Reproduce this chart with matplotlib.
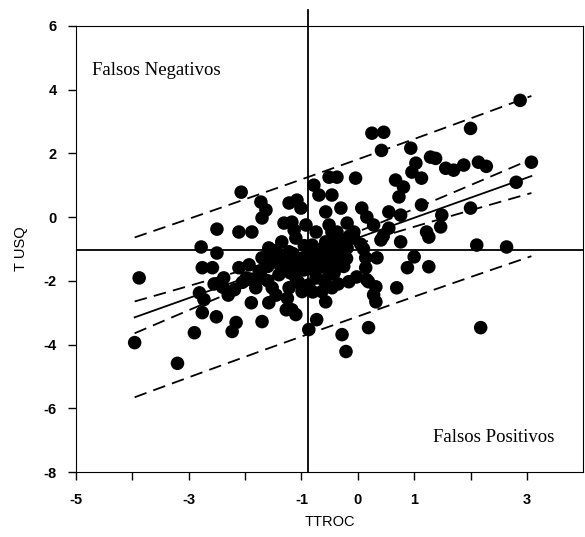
import numpy as np
import matplotlib
matplotlib.use('Agg')
import matplotlib.pyplot as plt

plt.rcParams['axes.unicode_minus'] = False
plt.rcParams['font.family'] = ['Liberation Sans', 'DejaVu Sans']

# scatter data
ttroc = [-2.07, -1.72, -1.63, -1.70, -1.22, -1.08, -1.01, -1.31, -1.17, -1.13,
         -0.92, -2.11, -1.88, -2.50, -0.78, -0.51, -0.69, -0.57, -0.51, 0.25,
         0.46, 0.42, 0.94, 1.29, 1.38, 1.03, 0.96, 1.13, 1.56, 1.70,
         1.88, 2.00, 2.14, 2.28, 2.88, 3.08, 2.81, 2.00, 2.11, 2.64,
         -0.37, -0.04, 0.67, 0.81, 0.73, 1.13, -0.30, 0.07, 0.16, 0.55,
         0.76, -0.19, 0.28, -0.37, -0.07, 1.22, 1.49, 1.47, 1.26, 0.41,
         0.76, 1.00, 0.88, 1.26, 0.34, 0.14, 0.14, -0.30, -0.34, -0.16,
         -0.02, 0.16, 0.32, 0.28, 0.32, 0.69, -0.28, 0.19, -0.21, -0.42,
         2.18, -0.87, -0.73, -1.17, -1.27, -1.10, -1.70, -2.16, -2.23, -1.89,
         -1.58, -2.11, -2.19, -1.58, -2.78, -2.50, -3.88, -2.76, -2.58, -2.81,
         -2.73, -2.76, -2.51, -2.90, -3.96, -3.20, -2.38, 0.19,
         -1.35, -1.10, -0.81, -0.57, -0.51, -0.74, -1.10, -1.45, -1.70, -1.93,
         -1.98, -1.70, -1.40, -1.10, -0.74, -0.51, -1.81, -1.52, -1.22, -0.99,
         -0.64, -0.46, -0.57, -0.46, -0.74, -0.46, -0.37, -0.19, -0.07, -0.87,
         -1.22, -0.69, -0.96, -1.26, -0.87,
         -1.45, -1.30, -1.15, -1.00, -0.85, -0.70, -0.60, -0.45, -0.30, -0.20,
         -1.60, -1.35, -1.20, -1.05, -0.90, -0.80, -0.65, -0.55, -0.40, -0.25,
         -1.50, -1.75, -1.90, -2.05, -1.60, -0.95, -1.05, -0.80, -0.60, -0.35,
         -2.30, -2.40, -1.45, -1.25, 0.05, 0.10, 0.45, 0.55, -2.55, -0.15]
tusq = [0.78, 0.47, 0.22, -0.03, 0.44, 0.53, 0.28, -0.19, -0.16, -0.41,
        -0.25, -0.47, -0.47, -0.38, 1.00, 1.25, 0.69, 0.16, -0.25, 2.63,
        2.66, 2.09, 2.16, 1.88, 1.84, 1.69, 1.41, 1.22, 1.53, 1.47,
        1.63, 2.78, 1.72, 1.59, 3.66, 1.72, 1.09, 0.28, -0.88, -0.94,
        1.25, 1.22, 1.16, 0.94, 0.63, 0.38, 0.28, 0.28, 0.00, 0.16,
        0.06, -0.19, -0.25, -0.47, -0.47, -0.47, 0.06, -0.31, -0.63, -0.72,
        -0.78, -1.25, -1.59, -1.56, -1.28, -1.28, -1.59, -1.19, -0.66, -2.03,
        -1.88, -1.97, -2.19, -2.44, -2.66, -2.22, -3.69, -3.47, -4.22, -1.75,
        -3.47, -3.53, -3.22, -2.91, -2.91, -3.06, -3.28, -3.31, -3.59, -2.69,
        -2.69, -1.59, -2.28, -0.97, -0.94, -1.13, -1.91, -1.59, -1.59, -2.38,
        -2.59, -3.00, -3.13, -3.63, -3.94, -4.59, -1.91, -2.03,
        -0.78, -0.66, -0.88, -0.78, -1.28, -1.41, -1.41, -1.41, -1.28, -1.50,
        -1.91, -1.91, -1.81, -1.91, -1.91, -1.81, -2.22, -2.22, -2.22, -2.34,
        -2.34, -2.22, -2.66, 0.69, -0.47, -0.47, -0.78, -0.97, -0.66, -1.03,
        -1.09, -1.59, -1.66, -1.59, -2.13,
        -1.05, -1.25, -1.15, -1.30, -1.20, -1.05, -0.95, -1.00, -0.90, -1.30,
        -1.55, -1.60, -1.75, -1.55, -1.45, -1.65, -1.35, -1.55, -1.40, -1.55,
        -1.25, -1.70, -1.95, -2.05, -2.00, -0.90, -2.05, -2.35, -2.00, -2.10,
        -2.45, -2.20, -2.45, -2.55, -0.85, -1.00, -0.60, -0.35, -2.10, -0.60]

x_ticks = [-5, -4, -3, -2, -1, 0, 1, 2, 3]
x_labels = ['-5', '', '-3', '', '-1', '0', '1', '', '3']
y_ticks = [-8, -6, -4, -2, 0, 2, 4, 6]
cut_x = -0.88
cut_y = -1.05

x = np.array(ttroc)
y = np.array(tusq)

# linear regression with 95% confidence and prediction bands
slope, intercept = np.polyfit(x, y, 1)
n = len(x)
resid = y - (intercept + slope * x)
s = np.sqrt(np.sum(resid ** 2) / (n - 2))
sxx = np.sum((x - x.mean()) ** 2)
t = 1.97
xf = np.linspace(x.min(), x.max(), 100)
yf = intercept + slope * xf
ci = t * s * np.sqrt(1 / n + (xf - x.mean()) ** 2 / sxx)
pi = t * s * np.sqrt(1 + 1 / n + (xf - x.mean()) ** 2 / sxx)

fig = plt.figure(figsize=(5.85, 5.37), dpi=100)
ax = fig.add_axes([0.130, 0.121, 0.867, 0.831])

ax.scatter(x, y, s=95, color='black', edgecolors='none', zorder=3)
ax.plot(xf, yf, color='black', lw=1.3)
dash = (0, (7, 4))
for band in (yf + ci, yf - ci, yf + pi, yf - pi):
    ax.plot(xf, band, color='black', lw=1.3, linestyle=dash)

ax.axhline(cut_y, color='black', lw=1.3)
ax.plot([cut_x, cut_x], [-8, 6.5], color='black', lw=1.3, clip_on=False)

ax.text(-4.71, 4.47, 'Falsos Negativos', family='Liberation Serif', fontsize=13.5)
ax.text(3.49, -7.06, 'Falsos Positivos', family='Liberation Serif', fontsize=13.5,
        ha='right')

ax.set_xlim(-5, 4)
ax.set_ylim(-8, 6)
ax.set_xticks(x_ticks)
ax.set_xticklabels(x_labels)
ax.set_yticks(y_ticks)
ax.tick_params(direction='out', length=6, width=1, labelsize=10.5, pad=8)
ax.tick_params(axis='x', pad=9)
for lab in ax.get_xticklabels() + ax.get_yticklabels():
    lab.set_fontweight('bold')
ax.set_xlabel('TTROC', fontsize=10.5, labelpad=6)
ax.set_ylabel('T USQ', fontsize=10.5, labelpad=11)

fig.savefig('out.png', dpi=100)
